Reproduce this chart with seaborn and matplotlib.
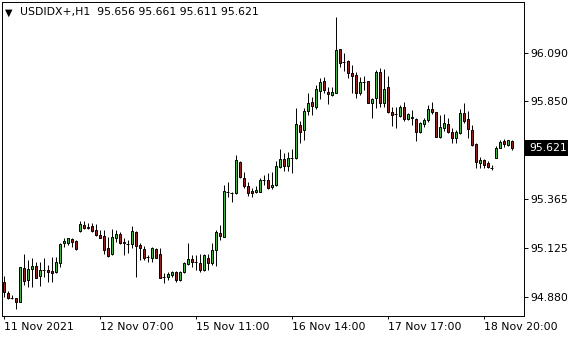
import matplotlib
matplotlib.use("Agg")
import numpy as np
import pandas as pd
import seaborn as sns
import matplotlib.pyplot as plt
from matplotlib.patches import Rectangle

# ---------------- data (H1 candles, USDIDX+) ----------------
symbol = "USDIDX+,H1"
opens = [94.956, 94.898, 94.875, 94.874, 94.857, 95.022, 94.964, 95.017, 95.034, 94.984,
         95.014, 95.014, 95.009, 95.003, 95.047, 95.146, 95.146, 95.168, 95.158, 95.207,
         95.237, 95.221, 95.232, 95.212, 95.187, 95.182, 95.121, 95.092, 95.174, 95.192,
         95.154, 95.143, 95.141, 95.204, 95.138, 95.118, 95.077, 95.075, 95.118, 95.092,
         94.978, 94.981, 94.989, 95.003, 94.964, 95.003, 95.042, 95.068, 95.055, 95.047,
         95.014, 95.075, 95.047, 95.113, 95.196, 95.179, 95.399, 95.397, 95.394, 95.551,
         95.469, 95.432, 95.406, 95.399, 95.402, 95.460, 95.460, 95.424, 95.435, 95.523,
         95.564, 95.531, 95.568, 95.568, 95.733, 95.708, 95.804, 95.846, 95.824, 95.903,
         95.951, 95.898, 95.882, 95.893, 96.108, 96.044, 96.050, 95.992, 95.981, 95.890,
         95.945, 95.951, 95.844, 95.865, 95.997, 95.844, 95.920, 95.796, 95.786, 95.778,
         95.821, 95.761, 95.766, 95.761, 95.700, 95.736, 95.758, 95.812, 95.796, 95.675,
         95.720, 95.736, 95.700, 95.667, 95.692, 95.791, 95.763, 95.708, 95.637, 95.546,
         95.559, 95.546, 95.521, 95.571, 95.620, 95.654, 95.634, 95.656]
highs = [94.984, 94.910, 94.890, 94.877, 95.030, 95.092, 95.063, 95.072, 95.055, 95.055,
         95.072, 95.039, 95.080, 95.080, 95.146, 95.171, 95.174, 95.174, 95.163, 95.257,
         95.257, 95.245, 95.245, 95.240, 95.212, 95.212, 95.179, 95.217, 95.212, 95.204,
         95.171, 95.163, 95.232, 95.207, 95.146, 95.134, 95.088, 95.129, 95.121, 95.121,
         94.998, 95.006, 95.009, 95.009, 95.009, 95.055, 95.146, 95.088, 95.088, 95.092,
         95.092, 95.092, 95.146, 95.212, 95.237, 95.435, 95.452, 95.402, 95.584, 95.554,
         95.498, 95.449, 95.422, 95.432, 95.469, 95.485, 95.496, 95.501, 95.554, 95.614,
         95.596, 95.601, 95.614, 95.816, 95.754, 95.816, 95.893, 95.870, 95.931, 95.965,
         95.972, 95.920, 95.920, 96.267, 96.110, 96.089, 96.055, 96.031, 95.997, 95.972,
         95.977, 95.953, 95.865, 96.006, 96.014, 96.009, 95.976, 95.824, 95.824, 95.832,
         95.849, 95.791, 95.807, 95.766, 95.746, 95.766, 95.832, 95.846, 95.799, 95.783,
         95.786, 95.766, 95.717, 95.708, 95.812, 95.841, 95.802, 95.733, 95.645, 95.576,
         95.563, 95.554, 95.535, 95.629, 95.658, 95.664, 95.661, 95.661]
lows = [94.882, 94.870, 94.868, 94.820, 94.854, 94.940, 94.931, 94.931, 94.973, 94.936,
        94.981, 94.956, 94.956, 94.998, 95.030, 95.129, 95.138, 95.129, 95.113, 95.204,
        95.217, 95.217, 95.204, 95.184, 95.171, 95.092, 95.080, 95.088, 95.154, 95.141,
        95.088, 95.097, 95.121, 94.981, 95.063, 95.063, 95.055, 95.055, 95.072, 94.973,
        94.948, 94.964, 94.981, 94.956, 94.959, 94.998, 95.039, 95.030, 95.014, 95.006,
        95.009, 95.014, 95.039, 95.035, 95.163, 95.177, 95.377, 95.353, 95.389, 95.472,
        95.422, 95.382, 95.377, 95.394, 95.399, 95.435, 95.416, 95.416, 95.430, 95.518,
        95.506, 95.506, 95.493, 95.564, 95.645, 95.658, 95.783, 95.783, 95.812, 95.860,
        95.890, 95.837, 95.877, 95.891, 96.022, 96.002, 95.965, 95.890, 95.865, 95.882,
        95.907, 95.841, 95.766, 95.819, 95.824, 95.821, 95.791, 95.728, 95.717, 95.774,
        95.753, 95.758, 95.733, 95.655, 95.692, 95.725, 95.749, 95.786, 95.672, 95.667,
        95.703, 95.692, 95.642, 95.642, 95.687, 95.741, 95.667, 95.629, 95.521, 95.518,
        95.521, 95.521, 95.510, 95.569, 95.617, 95.625, 95.629, 95.611]
closes = [94.906, 94.874, 94.874, 94.857, 95.027, 94.961, 95.019, 95.034, 94.976, 95.014,
          95.014, 95.003, 94.998, 95.052, 95.141, 95.158, 95.171, 95.151, 95.117, 95.240,
          95.221, 95.229, 95.209, 95.187, 95.174, 95.113, 95.085, 95.179, 95.192, 95.146,
          95.146, 95.143, 95.207, 95.134, 95.121, 95.075, 95.077, 95.124, 95.075, 94.976,
          94.978, 94.994, 95.006, 94.964, 95.003, 95.047, 95.068, 95.055, 95.055, 95.014,
          95.088, 95.047, 95.113, 95.201, 95.182, 95.406, 95.399, 95.397, 95.559, 95.477,
          95.432, 95.394, 95.394, 95.411, 95.460, 95.460, 95.419, 95.435, 95.530, 95.564,
          95.531, 95.568, 95.568, 95.736, 95.700, 95.802, 95.841, 95.829, 95.910, 95.948,
          95.907, 95.885, 95.895, 96.105, 96.039, 96.044, 95.992, 95.976, 95.893, 95.948,
          95.945, 95.844, 95.862, 95.997, 95.844, 95.912, 95.799, 95.783, 95.786, 95.821,
          95.761, 95.786, 95.771, 95.700, 95.741, 95.758, 95.811, 95.799, 95.675, 95.725,
          95.741, 95.700, 95.667, 95.697, 95.791, 95.754, 95.712, 95.634, 95.548, 95.559,
          95.535, 95.526, 95.521, 95.617, 95.647, 95.637, 95.659, 95.621]
xtick_pos = [0, 24, 48, 72, 96, 120]
xtick_labels = ["11 Nov 2021", "12 Nov 07:00", "15 Nov 11:00",
                "16 Nov 14:00", "17 Nov 17:00", "18 Nov 20:00"]
ytick_vals = [94.880, 95.125, 95.365, 95.850, 96.090]
ytick_labels = ["94.880", "95.125", "95.365", "95.850", "96.090"]
last_price = 95.621

# ---------------- style ----------------
sns.set_theme(style="white")
plt.rcParams['font.family'] = ['DejaVu Sans']

df = pd.DataFrame({"o": opens, "h": highs, "l": lows, "c": closes})
df["i"] = np.arange(len(df))
df["bull"] = df["c"] > df["o"]
df["doji"] = (df["c"] - df["o"]).abs() < 0.0015

W, H = 580, 340
fig = plt.figure(figsize=(W / 100, H / 100), dpi=100)
fig.patch.set_facecolor("white")
ax = fig.add_axes([2 / W, 24 / H, 522 / W, 314 / H])
ax.set_facecolor("white")

LW = 0.7
# wicks
ax.vlines(df["i"], df["l"], df["h"], color="black", linewidth=LW, zorder=2)
# bodies
body = df[~df["doji"]]
bull = body[body["bull"]]
bear = body[~body["bull"]]
ax.bar(bull["i"], bull["c"] - bull["o"], bottom=bull["o"], width=0.55,
       color="#00e600", edgecolor="black", linewidth=LW, zorder=3)
ax.bar(bear["i"], bear["c"] - bear["o"], bottom=bear["o"], width=0.55,
       color="#e00000", edgecolor="black", linewidth=LW, zorder=3)
# doji
dj = df[df["doji"]]
ax.hlines(dj["o"], dj["i"] - 0.375, dj["i"] + 0.375, color="black",
          linewidth=LW, zorder=3)

ax.set_xlim(-0.4, -0.4 + 522 / 4)
ax.set_ylim(96.090 - 263 / 201.65, 96.090 + 51 / 201.65)

for s in ax.spines.values():
    s.set_visible(True)
    s.set_color("black")
    s.set_linewidth(LW)

ax.yaxis.tick_right()
ax.set_yticks(ytick_vals)
ax.set_yticklabels(ytick_labels)
ax.set_xticks(xtick_pos)
ax.set_xticklabels(xtick_labels)
for lbl in ax.get_xticklabels():
    lbl.set_horizontalalignment("left")
ax.tick_params(axis="y", which="both", direction="out", length=3, width=LW,
               pad=1.5, labelsize=7.8, colors="black", right=True, left=False)
ax.tick_params(axis="x", which="both", direction="out", length=2.5, width=LW,
               pad=2, labelsize=7.8, colors="black", bottom=True)
ax.grid(False)

# header
fig.text(5 / W, 1 - 12.5 / H, "\u25bc", fontsize=7, color="black", va="center", ha="left")
fig.text(20 / W, 1 - 12.5 / H,
         f"{symbol}  {opens[-1]:.3f} {highs[-1]:.3f} {lows[-1]:.3f} {closes[-1]:.3f}",
         fontsize=7.8, color="black", va="center", ha="left")

# current price box
fig.canvas.draw()
py = ax.transData.transform((0, last_price))[1]  # pixel from bottom
fig.add_artist(Rectangle((525 / W, (py - 8) / H), 43 / W, 16 / H,
                         transform=fig.transFigure, facecolor="black",
                         edgecolor="none", zorder=5))
fig.text(529.5 / W, py / H, f"{last_price:.3f}", fontsize=7.8, color="white",
         va="center", ha="left", zorder=6)

fig.savefig("out.png", dpi=100, facecolor="white")
